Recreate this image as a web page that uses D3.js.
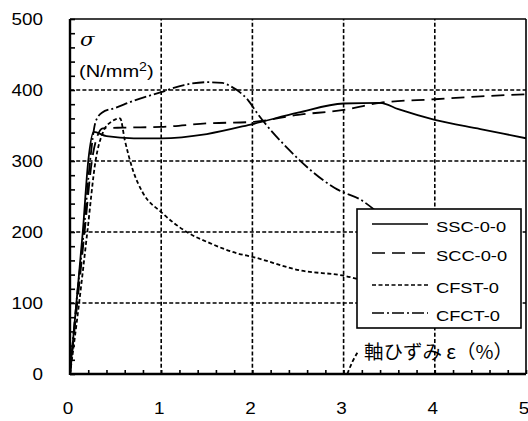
<!DOCTYPE html>
<html>
<head>
<meta charset="utf-8">
<script src="https://cdn.jsdelivr.net/npm/d3@7"></script>
<style>
  body { margin: 0; background: #fff; }
  svg { display: block; }
  text { font-family: "Liberation Sans", Arial, sans-serif; fill: #000; }
</style>
</head>
<body>
<div id="chart"></div>
<script>
// strain (%) / stress (N/mm2)
const sscStrain = [0, 0.07, 0.14, 0.2, 0.26, 0.4, 0.7, 1.0, 1.5, 2.0, 2.5, 3.0, 3.4, 3.6, 4.0, 4.5, 5.0];
const sscStress = [0, 100, 200, 300, 341, 335, 332, 332, 338, 352, 368, 381, 382, 373, 358, 345, 332];

const sccStrain = [0, 0.08, 0.16, 0.24, 0.3, 0.36, 0.58, 1.0, 1.5, 2.0, 2.5, 3.0, 3.4, 4.0, 4.5, 5.0];
const sccStress = [0, 100, 200, 300, 335, 346, 347, 348, 353, 355, 365, 372, 382, 387, 391, 394];

// null = pen lift between the main curve and the short piece near 3%
const cfstStrain = [0, 0.1, 0.19, 0.28, 0.36, 0.45, 0.55, 0.6, 0.69, 0.8, 1.0, 1.28, 1.54, 1.83, 2.0, 2.52, 3.02, 3.15, 3.6, 4.2, null, 3.04, 3.1, 3.16];
const cfstStress = [0, 100, 200, 300, 340, 355, 360, 330, 287, 255, 228, 200, 184, 170, 165, 146, 138, 134, 125, 115, null, 0, 18, 32];

const cfctStrain = [0, 0.07, 0.15, 0.22, 0.28, 0.35, 0.5, 0.7, 1.0, 1.25, 1.5, 1.67, 1.75, 1.95, 2.06, 2.4, 2.63, 2.93, 3.18, 3.5, 4.0];
const cfctStress = [0, 100, 200, 300, 355, 368, 375, 385, 397, 407, 411, 410, 406, 386, 366, 316, 288, 260, 246, 215, 180];

const seriesNames = ['SSC-0-0', 'SCC-0-0', 'CFST-0', 'CFCT-0'];
const seriesDash = [null, '13,7', '4,2.5', '12,3,2,3'];

const xTicks = [0, 1, 2, 3, 4, 5];
const yTicks = [0, 100, 200, 300, 400, 500];

const W = 528, H = 421;
const x = d3.scaleLinear().domain([0, 5]).range([70, 526]);
const y = d3.scaleLinear().domain([0, 500]).range([374, 19]);
const STRETCH = 1.18; // glyphs in the source are a bit wide

const svg = d3.select('#chart').append('svg')
    .attr('width', W)
    .attr('height', H);

function wideText(sel, px, py) {
    return sel.attr('transform', `translate(${px},${py}) scale(${STRETCH},1)`);
}

// dashed grid
svg.append('g')
    .selectAll('line')
    .data(xTicks.slice(1, -1))
    .join('line')
    .attr('x1', d => x(d)).attr('x2', d => x(d))
    .attr('y1', y(0)).attr('y2', y(500))
    .attr('stroke', '#000').attr('stroke-width', 1.6)
    .attr('stroke-dasharray', '4,2.2');

svg.append('g')
    .selectAll('line')
    .data(yTicks.slice(1, -1))
    .join('line')
    .attr('y1', d => y(d)).attr('y2', d => y(d))
    .attr('x1', x(0)).attr('x2', x(5))
    .attr('stroke', '#000').attr('stroke-width', 1.6)
    .attr('stroke-dasharray', '4,2.2');

// inside minor ticks
const yMinor = svg.append('g')
    .attr('transform', `translate(${x(0)},0)`)
    .call(d3.axisLeft(y).tickValues(d3.range(0, 501, 20)).tickSize(-5).tickFormat(''));
yMinor.select('.domain').remove();
yMinor.selectAll('line').attr('stroke-width', 1.6);

const xMinor = svg.append('g')
    .attr('transform', `translate(0,${y(0)})`)
    .call(d3.axisBottom(x).tickValues(d3.range(0, 5.01, 0.2)).tickSize(-4).tickFormat(''));
xMinor.select('.domain').remove();
xMinor.selectAll('line').attr('stroke-width', 1.6);

// frame
svg.append('line').attr('x1', x(0)).attr('x2', x(5)).attr('y1', y(500)).attr('y2', y(500))
    .attr('stroke', '#000').attr('stroke-width', 1.6);
svg.append('line').attr('x1', x(5)).attr('x2', x(5)).attr('y1', y(0)).attr('y2', y(500))
    .attr('stroke', '#000').attr('stroke-width', 1.6);
svg.append('line').attr('x1', x(0)).attr('x2', x(0)).attr('y1', y(0) + 1).attr('y2', y(500))
    .attr('stroke', '#000').attr('stroke-width', 2.4);
svg.append('line').attr('x1', x(0)).attr('x2', x(5)).attr('y1', y(0)).attr('y2', y(0))
    .attr('stroke', '#000').attr('stroke-width', 2.4);

// tick labels
svg.append('g')
    .selectAll('text')
    .data(yTicks)
    .join('text')
    .each(function(d) { wideText(d3.select(this), 43, y(d) + 2); })
    .attr('text-anchor', 'end')
    .attr('dominant-baseline', 'middle')
    .style('font-size', '16px')
    .text(d => d);

svg.append('g')
    .selectAll('text')
    .data(xTicks)
    .join('text')
    .each(function(d) { wideText(d3.select(this), x(d) - 2, 410); })
    .attr('text-anchor', 'middle')
    .attr('dominant-baseline', 'middle')
    .style('font-size', '16px')
    .text(d => d);

// curves
svg.append('clipPath').attr('id', 'plot-clip')
    .append('rect')
    .attr('x', x(0)).attr('y', y(500))
    .attr('width', x(5) - x(0)).attr('height', y(0) - y(500));

const line = d3.line()
    .defined(d => d[0] != null)
    .x(d => x(d[0]))
    .y(d => y(d[1]))
    .curve(d3.curveMonotoneX);

const curves = [
    d3.zip(sscStrain, sscStress),
    d3.zip(sccStrain, sccStress),
    d3.zip(cfstStrain, cfstStress),
    d3.zip(cfctStrain, cfctStress)
];

svg.append('g')
    .attr('clip-path', 'url(#plot-clip)')
    .selectAll('path')
    .data(curves)
    .join('path')
    .attr('d', line)
    .attr('fill', 'none')
    .attr('stroke', '#000')
    .attr('stroke-width', 1.8)
    .attr('stroke-dasharray', (d, i) => seriesDash[i]);

// axis titles
wideText(svg.append('text'), 80, 46)
    .style('font-size', '18px')
    .style('font-style', 'italic')
    .style('font-family', '"DejaVu Serif", serif')
    .text('σ');

const unit = wideText(svg.append('text'), 79, 77)
    .style('font-size', '17px');
unit.append('tspan').text('(N/mm');
unit.append('tspan').attr('dy', -6).style('font-size', '12px').text('2');
unit.append('tspan').attr('dy', 6).text(')');

svg.append('text')
    .attr('x', 364).attr('y', 359)
    .attr('textLength', 149)
    .attr('lengthAdjust', 'spacingAndGlyphs')
    .style('font-family', '"Noto Sans CJK JP", sans-serif')
    .style('font-size', '19px')
    .text('軸ひずみ ε（%）');

// legend
const legend = svg.append('g');
legend.append('rect')
    .attr('x', 357).attr('y', 209)
    .attr('width', 164).attr('height', 119)
    .attr('fill', '#fff')
    .attr('stroke', '#000')
    .attr('stroke-width', 1.6);

const legendRows = [224, 253, 285, 313];
const items = legend.selectAll('g.item')
    .data(seriesNames)
    .join('g')
    .attr('class', 'item');

items.append('line')
    .attr('x1', 372).attr('x2', 428)
    .attr('y1', (d, i) => legendRows[i]).attr('y2', (d, i) => legendRows[i])
    .attr('stroke', '#000')
    .attr('stroke-width', 1.7)
    .attr('stroke-dasharray', (d, i) => seriesDash[i]);

items.append('text')
    .each(function(d, i) { wideText(d3.select(this), 436, legendRows[i] + 4); })
    .attr('dominant-baseline', 'middle')
    .style('font-size', '15.5px')
    .text(d => d);
</script>
</body>
</html>
